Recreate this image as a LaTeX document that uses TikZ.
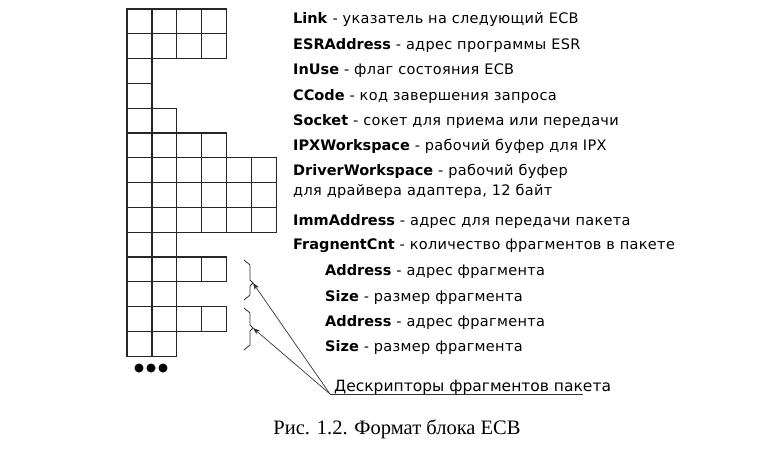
\documentclass[tikz,border=0pt]{standalone}
\usepackage{fontspec}
\setmainfont{DejaVu Sans}
\newfontfamily\capfont{Liberation Serif}
\newfontfamily\widefont[LetterSpace=2.2]{DejaVu Sans}
\usetikzlibrary{arrows.meta}
\newcommand{\fld}[2]{\textbf{#1}{\widefont\ #2}}
\begin{document}
\begin{tikzpicture}[x=1pt,y=-1pt,
  cell/.style={draw=black!85, line width=1.3pt, minimum width=24.9pt, minimum height=24.8pt, inner sep=0pt, outer sep=0pt},
  lbl/.style={anchor=west, inner sep=0pt, font=\fontsize{14.5}{16}\selectfont},
  desc/.style={anchor=base west, inner sep=0pt, font=\fontsize{15.5}{18}\selectfont},
  capt/.style={inner sep=0pt, font=\capfont\fontsize{20.5}{22}\selectfont},
  brace/.style={draw=black!80, line width=0.8pt},
  ptr/.style={draw=black!80, line width=0.7pt, -{Stealth[length=7pt,width=5pt,fill=black]}},
  dot/.style={circle, fill=black, inner sep=0pt, minimum size=9pt}]
\useasboundingbox (0,0) rectangle (760,460);
% grid of bytes
\foreach \r/\n in {1/4,2/4,3/1,4/1,5/2,6/4,7/6,8/6,9/6,10/2,11/4,12/2,13/4,14/2}{
  \foreach \c in {1,...,\n}{
    \node[cell] (c\r-\c) at ({127+(\c-0.5)*24.9},{9+(\r-0.5)*24.8}) {};
  }
}
\node[dot] (d1) at (139,368) {};
\node[dot] (d2) at (151,368) {};
\node[dot] (d3) at (163,368) {};
% labels
\node[lbl] (l1) at (293,20) {\fld{Link}{- указатель на следующий ECB}};
\node[lbl] (l2) at (293,45) {\fld{ESRAddress}{- адрес программы ESR}};
\node[lbl] (l3) at (293,71) {\fld{InUse}{- флаг состояния ECB}};
\node[lbl] (l4) at (293,96) {\fld{CCode}{- код завершения запроса}};
\node[lbl] (l5) at (293,121) {\fld{Socket}{- сокет для приема или передачи}};
\node[lbl] (l6) at (293,146) {\fld{IPXWorkspace}{- рабочий буфер для IPX}};
\node[lbl] (l7) at (293,171) {\fld{DriverWorkspace}{- рабочий буфер}};
\node[lbl] (l7b) at (293,191) {\widefont для драйвера адаптера, 12 байт};
\node[lbl] (l8) at (293,221) {\fld{ImmAddress}{- адрес для передачи пакета}};
\node[lbl] (l9) at (293,246) {\fld{FragnentCnt}{- количество фрагментов в пакете}};
\node[lbl] (l10) at (325,271) {\fld{Address}{- адрес фрагмента}};
\node[lbl] (l11) at (325,297) {\fld{Size}{- размер фрагмента}};
\node[lbl] (l12) at (325,322) {\fld{Address}{- адрес фрагмента}};
\node[lbl] (l13) at (325,347) {\fld{Size}{- размер фрагмента}};
% braces
\draw[brace] (244,260) -- (250,265) -- (250,280) -- (253,283) coordinate (b1) -- (250,286) -- (250,295) -- (244,300);
\draw[brace] (244,308) -- (250,313) -- (250,325) -- (253,328) coordinate (b2) -- (250,331) -- (250,345) -- (244,350);
% descriptor label
\node[desc] (dl) at (334,391) {Дескрипторы фрагментов пакета};
\coordinate (u0) at (330,394);
\coordinate (u1) at (583,394);
\draw[brace] (u0) -- (u1);
\draw[ptr] (u0) -- (b1);
\draw[ptr] (u0) -- (b2);
% caption
\node[capt] (cap) at (397,429) {Рис. 1.2. Формат блока ECB};
\end{tikzpicture}
\end{document}
